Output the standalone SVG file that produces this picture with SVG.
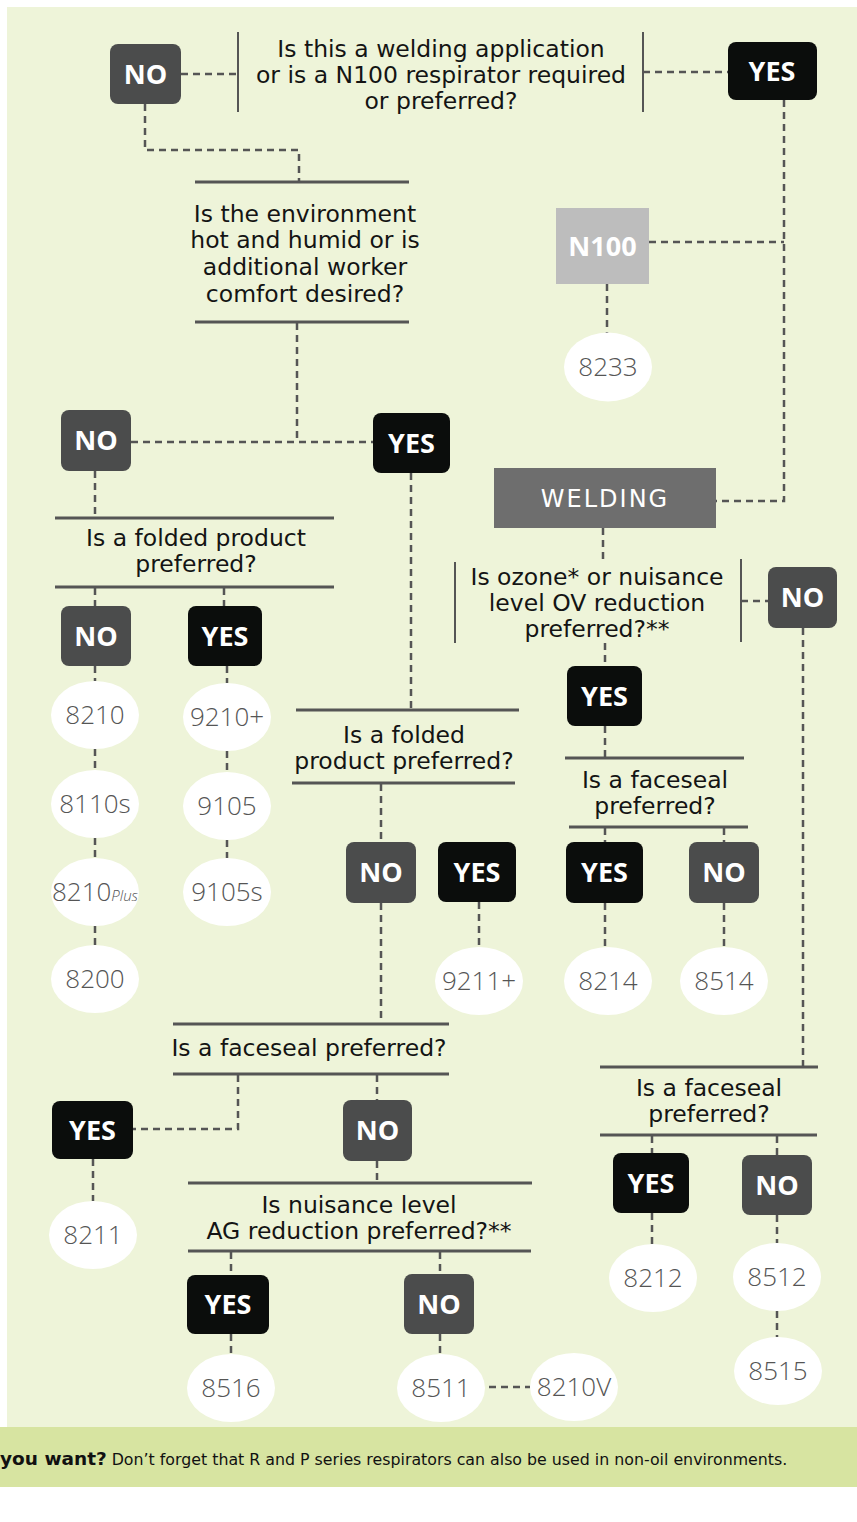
<svg xmlns="http://www.w3.org/2000/svg" width="857" height="1522" viewBox="0 0 857 1522">
<style>
.q{font-family:"DejaVu Sans","Open Sans",sans-serif;font-size:23.5px;fill:#141414;text-anchor:middle}
.bar{stroke:#555;stroke-width:3;fill:none}
.vbar{stroke:#555;stroke-width:2;fill:none}
.dash{stroke:#555;stroke-width:2.5;fill:none;stroke-dasharray:7 5}
.yes{fill:#0b0d0c}
.no{fill:#4b4c4c}
.bt{font-family:"Open Sans","Liberation Sans",sans-serif;font-size:27px;font-weight:700;fill:#fff;text-anchor:middle}
.c{fill:#fff}
.ct{font-family:"Open Sans","Liberation Sans",sans-serif;font-size:26px;font-weight:300;fill:#555;text-anchor:middle}
</style>
<rect x="0" y="0" width="857" height="1522" fill="#fff"/>
<rect x="7" y="7" width="850" height="1420" fill="#eef4d9"/>
<rect x="0" y="1427" width="857" height="60" fill="#d7e4a1"/>
<text x="0" y="1465" font-family="'DejaVu Sans','Open Sans',sans-serif" font-size="18.5" fill="#111"><tspan font-weight="700">you want?</tspan><tspan font-size="15.8" dx="5">Don’t forget that R and P series respirators can also be used in non-oil environments.</tspan></text>

<g id="connectors">
<path class="dash" d="M181 74H238"/>
<path class="dash" d="M643 72H728"/>
<path class="dash" d="M145 104V150H299V182"/>
<path class="dash" d="M784 100V501H716"/>
<path class="dash" d="M649 242H784"/>
<path class="dash" d="M607 284V333"/>
<path class="dash" d="M297 323V442"/>
<path class="dash" d="M131 442H373"/>
<path class="dash" d="M95 471V517"/>
<path class="dash" d="M411 473V709"/>
<path class="dash" d="M603 528V563"/>
<path class="dash" d="M741 601H768"/>
<path class="dash" d="M803 628V1066"/>
<path class="dash" d="M605 643V666"/>
<path class="dash" d="M605 726V757"/>
<path class="dash" d="M95 588V606"/>
<path class="dash" d="M224 588V606"/>
<path class="dash" d="M95 666V681"/>
<path class="dash" d="M227 666V683"/>
<path class="dash" d="M95 749V770"/>
<path class="dash" d="M227 751V772"/>
<path class="dash" d="M95 838V858"/>
<path class="dash" d="M227 840V858"/>
<path class="dash" d="M95 926V945"/>
<path class="dash" d="M381 784V842"/>
<path class="dash" d="M381 903V1023"/>
<path class="dash" d="M479 902V947"/>
<path class="dash" d="M605 828V842"/>
<path class="dash" d="M724 828V842"/>
<path class="dash" d="M605 903V947"/>
<path class="dash" d="M724 903V947"/>
<path class="dash" d="M238 1075V1129H133"/>
<path class="dash" d="M377 1075V1100"/>
<path class="dash" d="M93 1159V1201"/>
<path class="dash" d="M377 1161V1182"/>
<path class="dash" d="M231 1252V1275"/>
<path class="dash" d="M440 1252V1274"/>
<path class="dash" d="M231 1334V1354"/>
<path class="dash" d="M440 1334V1354"/>
<path class="dash" d="M489 1387H530"/>
<path class="dash" d="M652 1136V1153"/>
<path class="dash" d="M777 1136V1155"/>
<path class="dash" d="M652 1213V1244"/>
<path class="dash" d="M777 1215V1243"/>
<path class="dash" d="M777 1311V1337"/>
</g>

<g id="q1">
<path class="vbar" d="M238 32V112M643 32V112"/>
<text class="q"><tspan x="441" y="57">Is this a welding application</tspan><tspan x="441" y="83">or is a N100 respirator required</tspan><tspan x="441" y="109">or preferred?</tspan></text>
</g>
<g id="no1"><rect class="no" x="110" y="44" width="71" height="60" rx="8"/><text class="bt" x="145.5" y="84">NO</text></g>
<g id="yes1"><rect class="yes" x="728" y="42" width="89" height="58" rx="8"/><text class="bt" x="772" y="81">YES</text></g>

<g id="q2">
<path class="bar" d="M195 182H409M195 322H409"/>
<text class="q"><tspan x="305" y="222">Is the environment</tspan><tspan x="305" y="248">hot and humid or is</tspan><tspan x="305" y="275">additional worker</tspan><tspan x="305" y="302">comfort desired?</tspan></text>
</g>

<g id="n100"><rect x="556" y="208" width="93" height="76" fill="#bdbdbd"/><text class="bt" x="602.5" y="256">N100</text></g>
<g id="c8233"><ellipse class="c" cx="608" cy="367" rx="44" ry="34.5"/><text class="ct" x="608" y="376">8233</text></g>

<g id="no2"><rect class="no" x="61" y="410" width="70" height="61" rx="8"/><text class="bt" x="96" y="450">NO</text></g>
<g id="yes2"><rect class="yes" x="373" y="413" width="77" height="60" rx="8"/><text class="bt" x="411.5" y="453">YES</text></g>

<g id="welding"><rect x="494" y="468" width="222" height="60" fill="#6e6e6e"/><text x="605" y="507" font-family="'DejaVu Sans','Open Sans',sans-serif" font-size="24" letter-spacing="2" fill="#fff" text-anchor="middle">WELDING</text></g>

<g id="q3">
<path class="bar" d="M55 518H334M55 587H334"/>
<text class="q"><tspan x="196" y="546">Is a folded product</tspan><tspan x="196" y="572">preferred?</tspan></text>
</g>

<g id="q4">
<path class="vbar" d="M455 562V643M741 559V642"/>
<text class="q"><tspan x="597" y="585">Is ozone* or nuisance</tspan><tspan x="597" y="611">level OV reduction</tspan><tspan x="597" y="637">preferred?**</tspan></text>
</g>
<g id="no3"><rect class="no" x="768" y="567" width="69" height="61" rx="8"/><text class="bt" x="802.5" y="607">NO</text></g>

<g id="no4"><rect class="no" x="61" y="606" width="70" height="60" rx="8"/><text class="bt" x="96" y="646">NO</text></g>
<g id="yes4"><rect class="yes" x="188" y="606" width="74" height="60" rx="8"/><text class="bt" x="225" y="646">YES</text></g>

<g id="c8210"><ellipse class="c" cx="95" cy="715" rx="44" ry="34"/><text class="ct" x="95" y="724">8210</text></g>
<g id="c9210p"><ellipse class="c" cx="227" cy="717" rx="44" ry="34"/><text class="ct" x="227" y="726">9210+</text></g>
<g id="c8110s"><ellipse class="c" cx="95" cy="804" rx="44" ry="34"/><text class="ct" x="95" y="813">8110s</text></g>
<g id="c9105"><ellipse class="c" cx="227" cy="806" rx="44" ry="34"/><text class="ct" x="227" y="815">9105</text></g>
<g id="c8210plus"><ellipse class="c" cx="95" cy="892" rx="44" ry="34"/><text class="ct" x="95" y="901">8210<tspan font-size="15" font-style="italic">Plus</tspan></text></g>
<g id="c9105s"><ellipse class="c" cx="227" cy="892" rx="44" ry="34"/><text class="ct" x="227" y="901">9105s</text></g>
<g id="c8200"><ellipse class="c" cx="95" cy="979" rx="44" ry="34"/><text class="ct" x="95" y="988">8200</text></g>

<g id="yes3"><rect class="yes" x="567" y="666" width="75" height="60" rx="8"/><text class="bt" x="604.5" y="706">YES</text></g>

<g id="q5">
<path class="bar" d="M296 710H519M292 783H515"/>
<text class="q"><tspan x="404" y="743">Is a folded</tspan><tspan x="404" y="769">product preferred?</tspan></text>
</g>

<g id="q6">
<path class="bar" d="M565 758H744M569 827H748"/>
<text class="q"><tspan x="655" y="788">Is a faceseal</tspan><tspan x="655" y="814">preferred?</tspan></text>
</g>

<g id="no5"><rect class="no" x="346" y="842" width="70" height="61" rx="8"/><text class="bt" x="381" y="882">NO</text></g>
<g id="yes5"><rect class="yes" x="438" y="842" width="78" height="60" rx="8"/><text class="bt" x="477" y="882">YES</text></g>
<g id="yes6"><rect class="yes" x="566" y="842" width="77" height="61" rx="8"/><text class="bt" x="604.5" y="882">YES</text></g>
<g id="no6"><rect class="no" x="689" y="842" width="70" height="61" rx="8"/><text class="bt" x="724" y="882">NO</text></g>

<g id="c9211p"><ellipse class="c" cx="479" cy="981" rx="44" ry="34"/><text class="ct" x="479" y="990">9211+</text></g>
<g id="c8214"><ellipse class="c" cx="608" cy="981" rx="44" ry="34"/><text class="ct" x="608" y="990">8214</text></g>
<g id="c8514"><ellipse class="c" cx="724" cy="981" rx="44" ry="34"/><text class="ct" x="724" y="990">8514</text></g>

<g id="q7">
<path class="bar" d="M173 1024H449M173 1074H449"/>
<text class="q" x="309" y="1056">Is a faceseal preferred?</text>
</g>

<g id="q8">
<path class="bar" d="M600 1067H818M600 1135H817"/>
<text class="q"><tspan x="709" y="1096">Is a faceseal</tspan><tspan x="709" y="1122">preferred?</tspan></text>
</g>

<g id="yes7"><rect class="yes" x="52" y="1101" width="81" height="58" rx="8"/><text class="bt" x="92.5" y="1140">YES</text></g>
<g id="no7"><rect class="no" x="343" y="1100" width="69" height="61" rx="8"/><text class="bt" x="377.5" y="1140">NO</text></g>
<g id="yes8"><rect class="yes" x="613" y="1153" width="76" height="60" rx="8"/><text class="bt" x="651" y="1193">YES</text></g>
<g id="no8"><rect class="no" x="742" y="1155" width="70" height="60" rx="8"/><text class="bt" x="777" y="1195">NO</text></g>

<g id="c8211"><ellipse class="c" cx="93" cy="1235" rx="44" ry="34"/><text class="ct" x="93" y="1244">8211</text></g>

<g id="q9">
<path class="bar" d="M188 1183H532M188 1251H531"/>
<text class="q"><tspan x="359" y="1213">Is nuisance level</tspan><tspan x="359" y="1239">AG reduction preferred?**</tspan></text>
</g>

<g id="c8212"><ellipse class="c" cx="653" cy="1278" rx="44" ry="34"/><text class="ct" x="653" y="1287">8212</text></g>
<g id="c8512"><ellipse class="c" cx="777" cy="1277" rx="44" ry="34"/><text class="ct" x="777" y="1286">8512</text></g>
<g id="c8515"><ellipse class="c" cx="778" cy="1371" rx="44" ry="34"/><text class="ct" x="778" y="1380">8515</text></g>

<g id="yes9"><rect class="yes" x="187" y="1275" width="82" height="59" rx="8"/><text class="bt" x="228" y="1314">YES</text></g>
<g id="no9"><rect class="no" x="404" y="1274" width="70" height="60" rx="8"/><text class="bt" x="439" y="1314">NO</text></g>

<g id="c8516"><ellipse class="c" cx="231" cy="1388" rx="44" ry="34"/><text class="ct" x="231" y="1397">8516</text></g>
<g id="c8511"><ellipse class="c" cx="441" cy="1388" rx="44" ry="34"/><text class="ct" x="441" y="1397">8511</text></g>
<g id="c8210v"><ellipse class="c" cx="574" cy="1387" rx="44" ry="34"/><text class="ct" x="574" y="1396">8210V</text></g>
</svg>
